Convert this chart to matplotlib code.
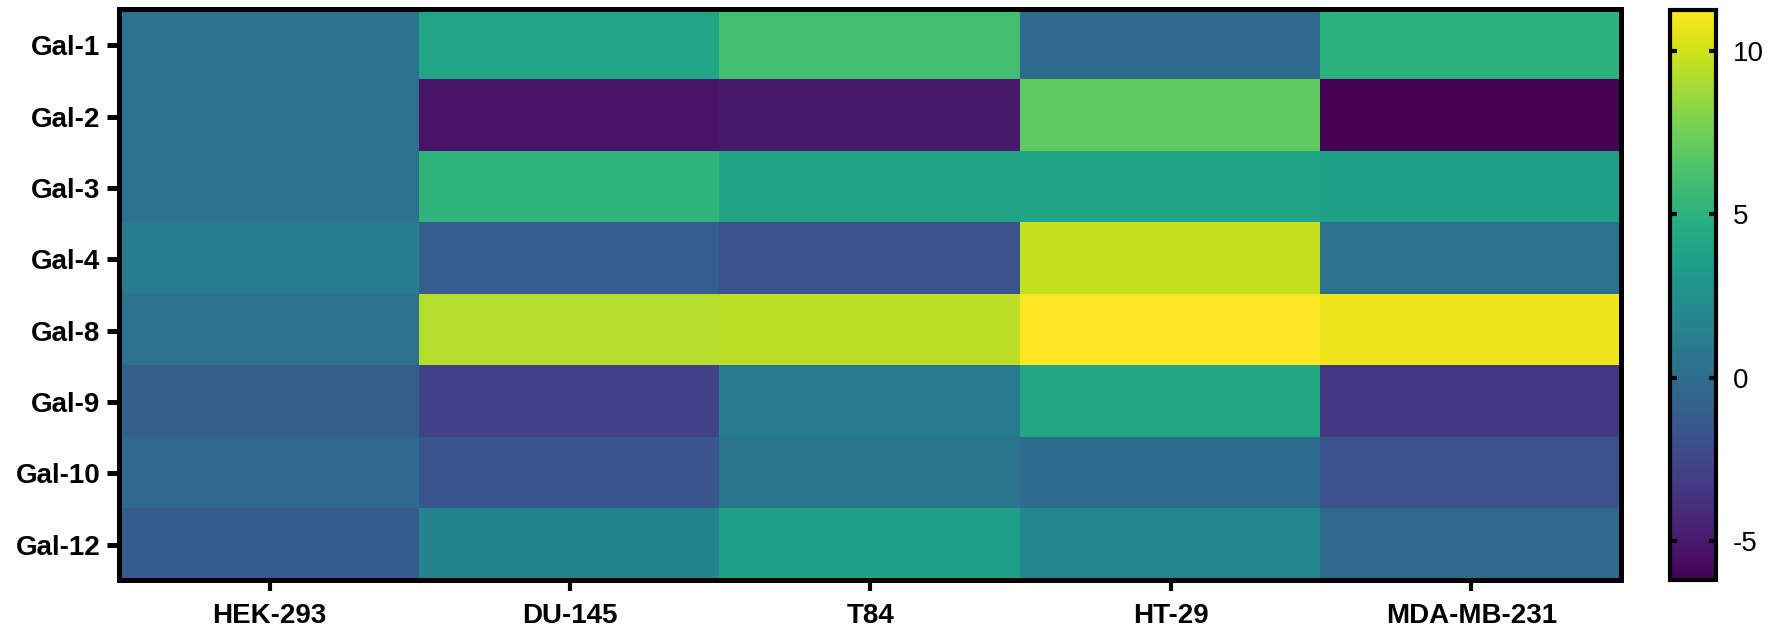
"""
Galectin expression heatmap across cell lines (viridis).
"""

import numpy as np
import matplotlib.pyplot as plt

plt.rcParams['font.family'] = ['Liberation Sans', 'DejaVu Sans']

# Data
cell_lines = ['HEK-293', 'DU-145', 'T84', 'HT-29', 'MDA-MB-231']
galectins = ['Gal-1', 'Gal-2', 'Gal-3', 'Gal-4', 'Gal-8', 'Gal-9', 'Gal-10', 'Gal-12']

gal1 = [0.3, 4.1, 6.0, -0.1, 5.0]
gal2 = [0.3, -5.3, -5.0, 6.9, -6.2]
gal3 = [0.3, 5.2, 4.0, 4.0, 3.8]
gal4 = [1.1, -1.0, -1.7, 9.7, 0.3]
gal8 = [0.4, 9.3, 9.5, 11.2, 10.8]
gal9 = [-0.9, -2.7, 1.0, 4.3, -3.4]
gal10 = [-0.2, -1.5, 0.5, 0.0, -1.9]
gal12 = [-1.2, 1.7, 3.8, 1.8, -0.2]

vmin, vmax = -6.2, 11.26
cbar_ticks = [-5, 0, 5, 10]


def main():
    values = np.array([gal1, gal2, gal3, gal4, gal8, gal9, gal10, gal12])

    fig = plt.figure(figsize=(17.83, 6.32), dpi=100)
    ax = fig.add_axes([0.0670, 0.0815, 0.8424, 0.9035])
    cax = fig.add_axes([0.9366, 0.0823, 0.0258, 0.9019])

    im = ax.imshow(values, cmap='viridis', vmin=vmin, vmax=vmax,
                   aspect='auto', interpolation='nearest')

    ax.set_xticks(range(len(cell_lines)))
    ax.set_xticklabels(cell_lines, fontsize=20, fontweight='bold')
    ax.set_yticks(range(len(galectins)))
    ax.set_yticklabels(galectins, fontsize=20, fontweight='bold')
    ax.tick_params(axis='y', width=3.6, length=8.6, pad=5)
    ax.tick_params(axis='x', width=3.0, length=8, pad=8)
    for side in ax.spines.values():
        side.set_linewidth(3.6)

    cbar = fig.colorbar(im, cax=cax, ticks=cbar_ticks)
    cbar.outline.set_linewidth(3.0)
    cbar.ax.tick_params(direction='in', left=True, right=True, length=5,
                        width=3.0, labelsize=20, pad=12)
    cbar.ax.set_yticklabels([str(t) for t in cbar_ticks])

    plt.savefig('out.png', dpi=100)
    plt.close()


if __name__ == '__main__':
    main()
